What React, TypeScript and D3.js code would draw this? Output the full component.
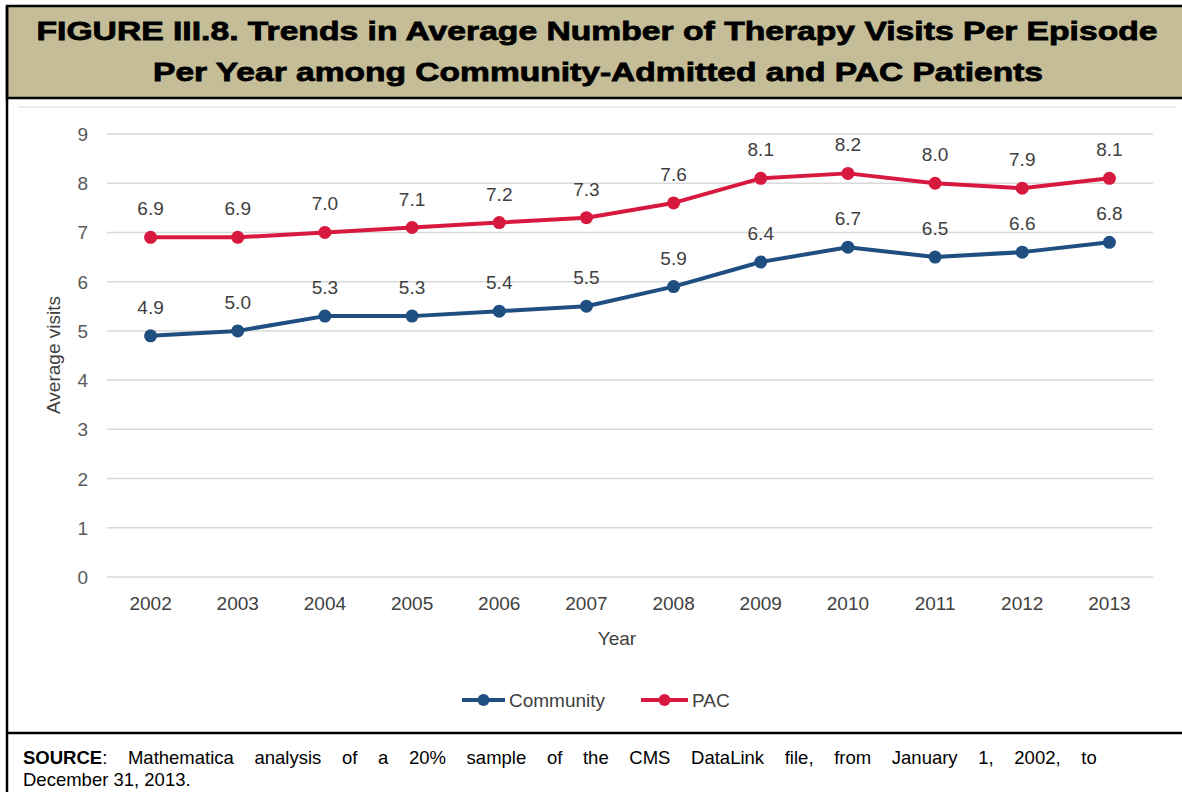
import React from "react";
import * as d3 from "d3";

const years = ["2002", "2003", "2004", "2005", "2006", "2007", "2008", "2009", "2010", "2011", "2012", "2013"];
const communityValues = [4.9, 5.0, 5.3, 5.3, 5.4, 5.5, 5.9, 6.4, 6.7, 6.5, 6.6, 6.8];
const pacValues = [6.9, 6.9, 7.0, 7.1, 7.2, 7.3, 7.6, 8.1, 8.2, 8.0, 7.9, 8.1];
const yTicks = [0, 1, 2, 3, 4, 5, 6, 7, 8, 9];
const seriesNames = ["Community", "PAC"];

const W = 1182;
const H = 792;
const FONT = "'Liberation Sans', Arial, Helvetica, sans-serif";
const BLUE = "#1f4e80";
const RED = "#d8193f";

export default function App() {
  const x = d3.scaleBand<string>().domain(years).range([107, 1153]);
  const y = d3.scaleLinear().domain([0, 9]).range([577, 134]);
  const cx = (yr: string) => (x(yr) ?? 0) + x.bandwidth() / 2;

  const line = d3
    .line<number>()
    .x((_, i) => cx(years[i]))
    .y((d) => y(d));

  const series = [
    { name: seriesNames[0], values: communityValues, color: BLUE },
    { name: seriesNames[1], values: pacValues, color: RED },
  ];

  const legend = [
    { name: seriesNames[0], color: BLUE, x0: 462, x1: 505, tx: 509 },
    { name: seriesNames[1], color: RED, x0: 641, x1: 688, tx: 692 },
  ];

  return (
    <svg
      width={W}
      height={H}
      style={{ position: "absolute", left: 0, top: 0, background: "#fff" }}
    >
      {/* header band */}
      <rect x={7} y={6} width={W + 10} height={92} fill="#c4bd97" stroke="#000" strokeWidth={2.5} />
      <text
        x={597}
        y={40}
        textAnchor="middle"
        fontFamily={FONT}
        fontWeight={900}
        fontSize={26}
        stroke="#000"
        strokeWidth={0.8}
        textLength={1121}
        lengthAdjust="spacingAndGlyphs"
      >
        FIGURE III.8. Trends in Average Number of Therapy Visits Per Episode
      </text>
      <text
        x={598}
        y={81}
        textAnchor="middle"
        fontFamily={FONT}
        fontWeight={900}
        fontSize={26}
        stroke="#000"
        strokeWidth={0.8}
        textLength={890}
        lengthAdjust="spacingAndGlyphs"
      >
        Per Year among Community-Admitted and PAC Patients
      </text>

      {/* frame */}
      <line x1={7} x2={7} y1={6} y2={H} stroke="#000" strokeWidth={2.5} />
      <line x1={7} x2={W} y1={733} y2={733} stroke="#000" strokeWidth={2.5} />

      {/* chart area outline */}
      <line x1={18} x2={1175} y1={107} y2={107} stroke="#e6e6e6" strokeWidth={1.5} />

      {/* gridlines and y ticks */}
      {yTicks.map((t) => (
        <g key={t}>
          <line x1={107} x2={1153} y1={y(t)} y2={y(t)} stroke="#d9d9d9" strokeWidth={1.5} />
          <text
            x={88}
            y={y(t) + 7}
            textAnchor="end"
            fontFamily={FONT}
            fontSize={19}
            fill="#595959"
          >
            {t}
          </text>
        </g>
      ))}

      {/* x ticks */}
      {years.map((yr) => (
        <text
          key={yr}
          x={cx(yr)}
          y={610}
          textAnchor="middle"
          fontFamily={FONT}
          fontSize={19}
          fill="#404040"
        >
          {yr}
        </text>
      ))}

      {/* axis titles */}
      <text x={617} y={645} textAnchor="middle" fontFamily={FONT} fontSize={19} fill="#404040">
        Year
      </text>
      <text
        transform="translate(60,355) rotate(-90)"
        textAnchor="middle"
        fontFamily={FONT}
        fontSize={19}
        fill="#404040"
      >
        Average visits
      </text>

      {/* series */}
      {series.map((s) => (
        <g key={s.name}>
          <path d={line(s.values) ?? ""} fill="none" stroke={s.color} strokeWidth={4} strokeLinejoin="round" />
          {s.values.map((v, i) => (
            <circle key={i} cx={cx(years[i])} cy={y(v)} r={6.5} fill={s.color} />
          ))}
          {s.values.map((v, i) => (
            <text
              key={"l" + i}
              x={cx(years[i])}
              y={y(v) - 22}
              textAnchor="middle"
              fontFamily={FONT}
              fontSize={19}
              fill="#404040"
            >
              {d3.format(".1f")(v)}
            </text>
          ))}
        </g>
      ))}

      {/* legend */}
      {legend.map((l) => (
        <g key={l.name}>
          <line x1={l.x0} x2={l.x1} y1={700} y2={700} stroke={l.color} strokeWidth={4} />
          <circle cx={(l.x0 + l.x1) / 2} cy={700} r={6} fill={l.color} />
          <text x={l.tx} y={707} fontFamily={FONT} fontSize={19} fill="#404040">
            {l.name}
          </text>
        </g>
      ))}

      {/* source note: first line justified to the full width */}
      <text x={23} y={764} fontFamily={FONT} fontSize={18.5} fill="#000" wordSpacing={15.5}>
        <tspan fontWeight="bold">SOURCE</tspan>
        <tspan>: Mathematica analysis of a 20% sample of the CMS DataLink file, from January 1, 2002, to</tspan>
      </text>
      <text x={23} y={786} fontFamily={FONT} fontSize={18.5} fill="#000">
        December 31, 2013.
      </text>
    </svg>
  );
}
